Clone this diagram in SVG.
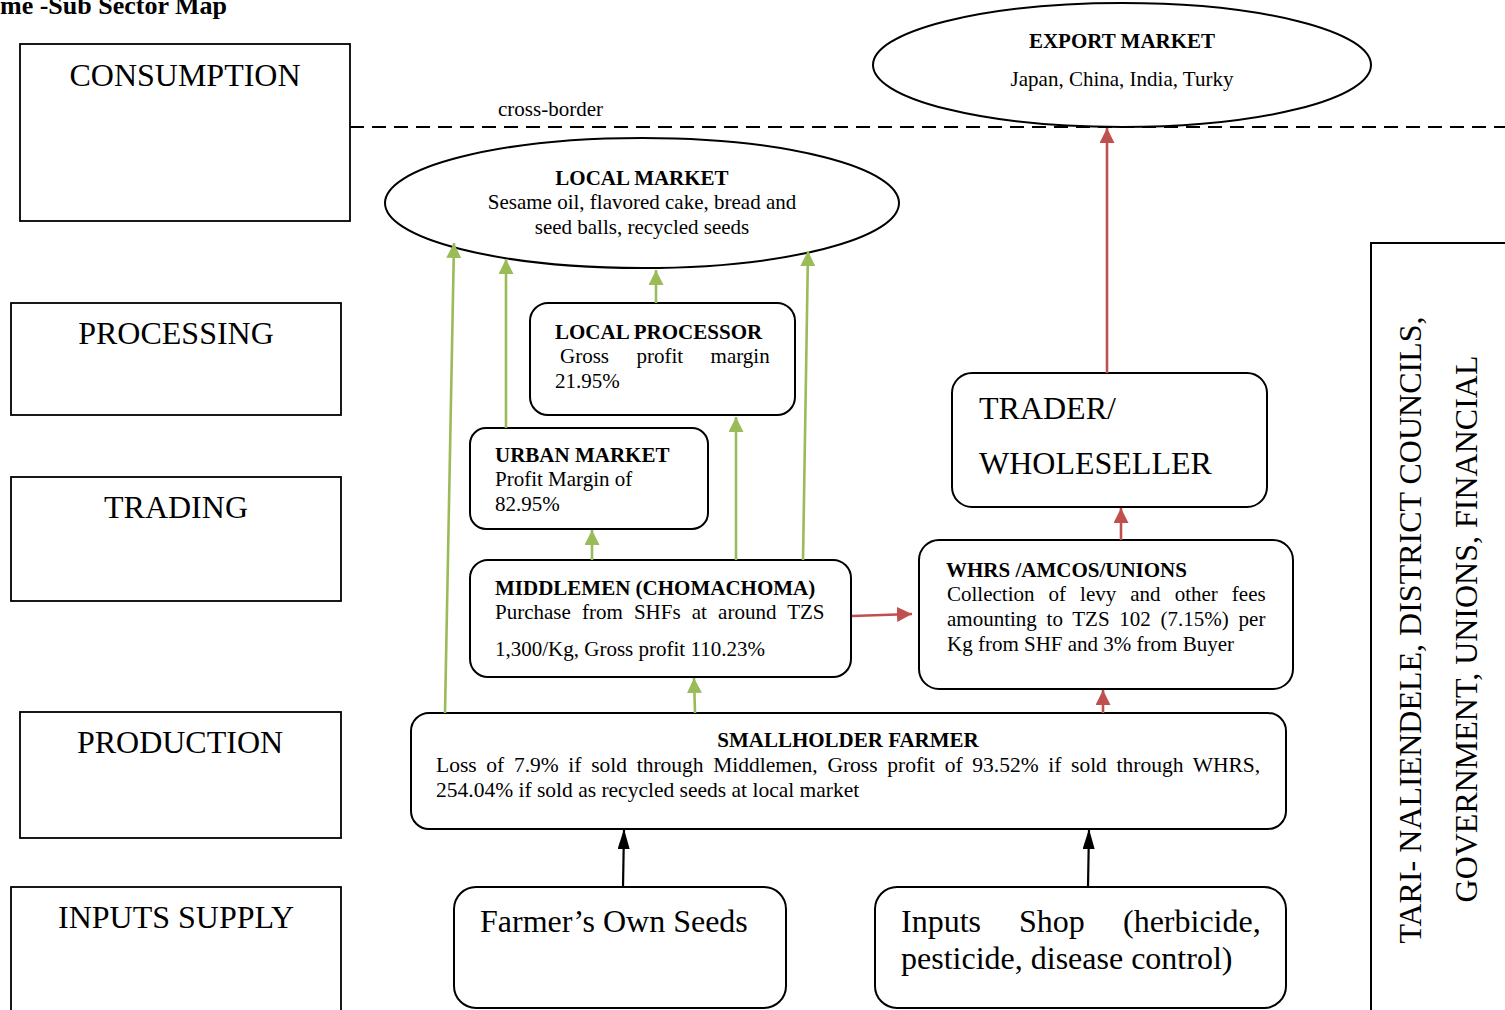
<svg xmlns="http://www.w3.org/2000/svg" width="1505" height="1010" viewBox="0 0 1505 1010">
<style>
text{font-family:"Liberation Serif","Times New Roman",serif;fill:#000}
.b{font-weight:bold}
.t21{font-size:21px}
.t32{font-size:32px}
.stage{fill:#fff;stroke:#000;stroke-width:1.8}
.node{fill:#fff;stroke:#000;stroke-width:2}
.g{stroke:#9BBB59;stroke-width:2.6;fill:none}
.r{stroke:#C0504D;stroke-width:2.6;fill:none}
.k{stroke:#000;stroke-width:2.2;fill:none}
</style>
<defs>
<marker id="ag" markerUnits="userSpaceOnUse" markerWidth="16" markerHeight="16" refX="15" refY="7.5" orient="auto"><path d="M0,0 L15,7.5 L0,15 z" fill="#9BBB59"/></marker>
<marker id="ar" markerUnits="userSpaceOnUse" markerWidth="16" markerHeight="16" refX="15" refY="7.5" orient="auto"><path d="M0,0 L15,7.5 L0,15 z" fill="#C0504D"/></marker>
<marker id="ak" markerUnits="userSpaceOnUse" markerWidth="22" markerHeight="14" refX="20" refY="6" orient="auto"><path d="M0,0 L20,6 L0,12 z" fill="#000"/></marker>
</defs>
<rect width="1505" height="1010" fill="#fff"/>

<text class="b" x="0" y="14" font-size="26">me -Sub Sector Map</text>

<g id="stages">
<g id="stage-consumption"><rect class="stage" x="20" y="44" width="330" height="177"/><text class="t32" x="185" y="86" text-anchor="middle">CONSUMPTION</text></g>
<g id="stage-processing"><rect class="stage" x="11" y="303" width="330" height="112"/><text class="t32" x="176" y="344" text-anchor="middle">PROCESSING</text></g>
<g id="stage-trading"><rect class="stage" x="11" y="477" width="330" height="124"/><text class="t32" x="176" y="518" text-anchor="middle">TRADING</text></g>
<g id="stage-production"><rect class="stage" x="20" y="712" width="321" height="126"/><text class="t32" x="180" y="753" text-anchor="middle">PRODUCTION</text></g>
<g id="stage-inputs"><rect class="stage" x="11" y="887" width="330" height="140"/><text class="t32" x="176" y="928" text-anchor="middle">INPUTS SUPPLY</text></g>
</g>

<g id="cross-border">
<line x1="350" y1="127" x2="1505" y2="127" stroke="#000" stroke-width="2" stroke-dasharray="14 8"/>
<text class="t21" x="498" y="116">cross-border</text>
</g>

<g id="export-market">
<ellipse class="node" cx="1122" cy="65" rx="249" ry="62"/>
<text class="t21 b" x="1122" y="48" text-anchor="middle">EXPORT MARKET</text>
<text class="t21" x="1122" y="86" text-anchor="middle">Japan, China, India, Turky</text>
</g>

<g id="local-market">
<ellipse class="node" cx="642" cy="203" rx="257" ry="65"/>
<text class="t21 b" x="642" y="185" text-anchor="middle">LOCAL MARKET</text>
<text class="t21" x="642" y="209" text-anchor="middle">Sesame oil, flavored cake, bread and</text>
<text class="t21" x="642" y="234" text-anchor="middle">seed balls, recycled seeds</text>
</g>

<g id="local-processor">
<rect class="node" x="530" y="303" width="265" height="112" rx="18"/>
<text class="t21 b" x="555" y="339">LOCAL PROCESSOR</text>
<text class="t21" x="560" y="363" word-spacing="22.2">Gross profit margin</text>
<text class="t21" x="555" y="388">21.95%</text>
</g>

<g id="urban-market">
<rect class="node" x="470" y="428" width="238" height="101" rx="16"/>
<text class="t21 b" x="495" y="462">URBAN MARKET</text>
<text class="t21" x="495" y="486">Profit Margin of</text>
<text class="t21" x="495" y="511">82.95%</text>
</g>

<g id="middlemen">
<rect class="node" x="470" y="560" width="381" height="117" rx="18"/>
<text class="t21 b" x="495" y="595">MIDDLEMEN (CHOMACHOMA)</text>
<text class="t21" x="495" y="619" word-spacing="5.9">Purchase from SHFs at around TZS</text>
<text class="t21" x="495" y="656">1,300/Kg, Gross profit 110.23%</text>
</g>

<g id="whrs">
<rect class="node" x="919" y="540" width="374" height="149" rx="20"/>
<text class="t21 b" x="946" y="577">WHRS /AMCOS/UNIONS</text>
<text class="t21" x="947" y="601" word-spacing="8.8">Collection of levy and other fees</text>
<text class="t21" x="947" y="626" word-spacing="4.5">amounting to TZS 102 (7.15%) per</text>
<text class="t21" x="947" y="651">Kg from SHF and 3% from Buyer</text>
</g>

<g id="trader">
<rect class="node" x="952" y="373" width="315" height="134" rx="20"/>
<text class="t32" x="979" y="419">TRADER/</text>
<text class="t32" x="979" y="474">WHOLESELLER</text>
</g>

<g id="smallholder">
<rect class="node" x="411" y="713" width="875" height="116" rx="18"/>
<text class="t21 b" x="848" y="747" text-anchor="middle">SMALLHOLDER FARMER</text>
<text x="436" y="772" font-size="21.5" word-spacing="4.3">Loss of 7.9% if sold through Middlemen, Gross profit of 93.52% if sold through WHRS,</text>
<text x="436" y="797" font-size="21.5">254.04% if sold as recycled seeds at local market</text>
</g>

<g id="own-seeds">
<rect class="node" x="454" y="887" width="332" height="121" rx="22"/>
<text class="t32" x="480" y="932">Farmer’s Own Seeds</text>
</g>

<g id="inputs-shop">
<rect class="node" x="875" y="887" width="411" height="121" rx="22"/>
<text class="t32" y="932"><tspan x="901">Inputs</tspan><tspan x="1019">Shop</tspan><tspan x="1123">(herbicide,</tspan></text>
<text class="t32" x="901" y="969">pesticide, disease control)</text>
</g>

<g id="support">
<rect x="1371" y="243" width="160" height="800" fill="#fff" stroke="#000" stroke-width="2"/>
<text class="t32" transform="translate(1421,630) rotate(-90)" text-anchor="middle">TARI- NALIENDELE, DISTRICT COUNCILS,</text>
<text class="t32" transform="translate(1477,629) rotate(-90)" text-anchor="middle">GOVERNMENT, UNIONS, FINANCIAL</text>
</g>

<g id="connectors">
<line class="g" x1="445" y1="713" x2="454" y2="243" marker-end="url(#ag)"/>
<line class="g" x1="506" y1="428" x2="506" y2="259" marker-end="url(#ag)"/>
<line class="g" x1="656" y1="303" x2="656" y2="270" marker-end="url(#ag)"/>
<line class="g" x1="803" y1="560" x2="808" y2="251" marker-end="url(#ag)"/>
<line class="g" x1="736" y1="560" x2="736" y2="417" marker-end="url(#ag)"/>
<line class="g" x1="592" y1="560" x2="592" y2="530" marker-end="url(#ag)"/>
<line class="g" x1="695" y1="713" x2="694" y2="678" marker-end="url(#ag)"/>
<line class="r" x1="1107" y1="373" x2="1107" y2="128" marker-end="url(#ar)"/>
<line class="r" x1="1121" y1="540" x2="1121" y2="508" marker-end="url(#ar)"/>
<line class="r" x1="1103" y1="713" x2="1103" y2="690" marker-end="url(#ar)"/>
<line class="r" x1="852" y1="616" x2="912" y2="614" marker-end="url(#ar)"/>
<line class="k" x1="623" y1="887" x2="624" y2="829" marker-end="url(#ak)"/>
<line class="k" x1="1088" y1="887" x2="1089" y2="829" marker-end="url(#ak)"/>
</g>
</svg>
